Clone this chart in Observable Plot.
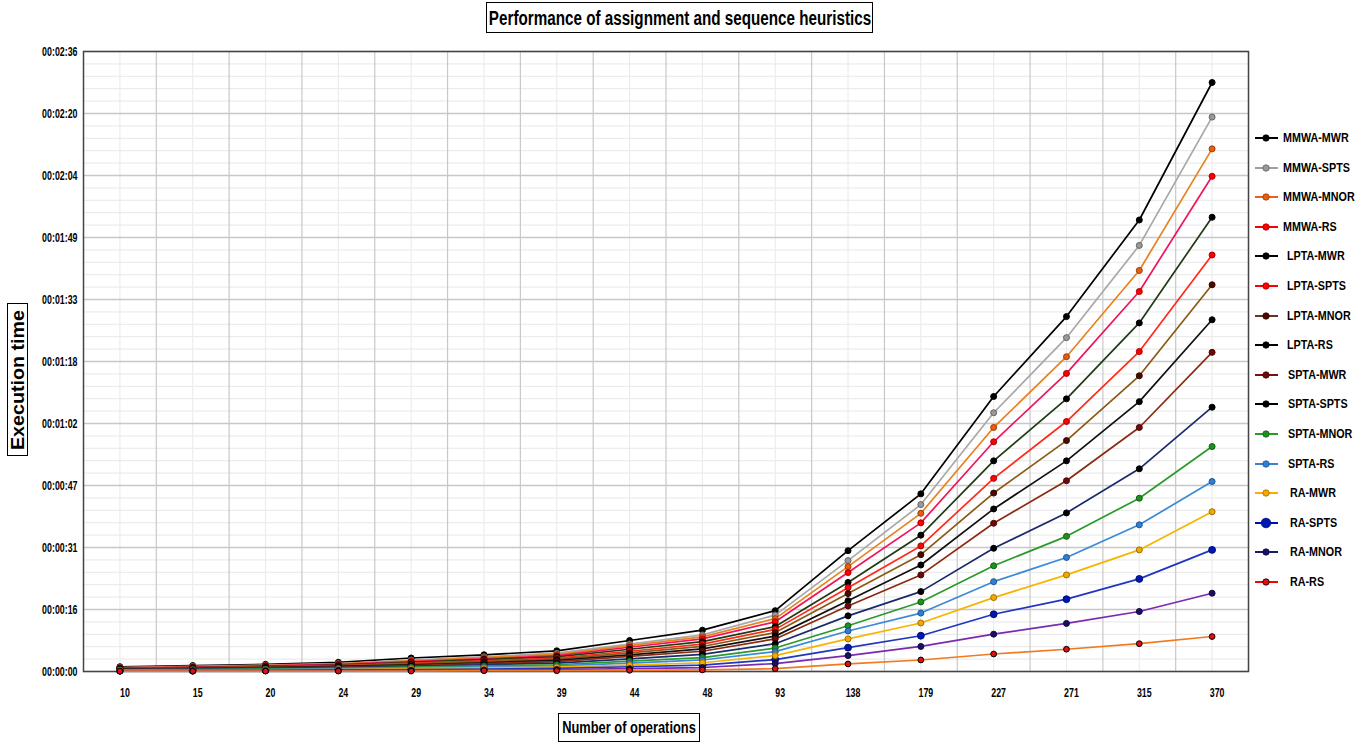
<!DOCTYPE html>
<html>
<head>
<meta charset="utf-8">
<script src="https://cdn.jsdelivr.net/npm/d3@7"></script>
<script src="https://cdn.jsdelivr.net/npm/@observablehq/plot@0.6"></script>
<style>
  html, body { margin: 0; padding: 0; background: #fff; }
  #wrap { position: relative; width: 1370px; height: 744px; overflow: hidden; font-family: "Liberation Sans", Arial, sans-serif; font-weight: bold; color: #000; }
  #wrap > svg { position: absolute; left: 0; top: 0; }
  .box { position: absolute; background: #fff; border: 1px solid #000; box-sizing: border-box; }
  .box span { position: absolute; left: 50%; top: 50%; white-space: nowrap; display: inline-block; }
  #title { left: 486px; top: 2px; width: 387px; height: 31px; }
  #title span { font-size: 20px; }
  #xlabel { left: 558px; top: 713px; width: 142px; height: 29px; }
  #xlabel span { font-size: 17px; }
  #ylabel { left: 7px; top: 303px; width: 21px; height: 153px; }
  #ylabel span { font-size: 19px; }
  #legend { position: absolute; left: 1253px; top: 0; }
  .li { position: absolute; left: 0; height: 20px; width: 117px; }
  .li svg { position: absolute; left: 0; top: 0; }
  .li .t { position: absolute; top: 2px; font-size: 13px; line-height: 16px; white-space: nowrap; transform-origin: 0 50%; display: inline-block; }
</style>
</head>
<body>
<div id="wrap">
  <div id="title" class="box"><span>Performance of assignment and sequence heuristics</span></div>
  <div id="xlabel" class="box"><span>Number of operations</span></div>
  <div id="ylabel" class="box"><span>Execution time</span></div>
  <div id="legend"></div>
</div>
<script>
// Categories (number of operations)
const operations = ["10","15","20","24","29","34","39","44","48","93","138","179","227","271","315","370"];

// Y tick labels
const yTickLabels = ["00:00:00","00:00:16","00:00:31","00:00:47","00:01:02","00:01:18","00:01:33","00:01:49","00:02:04","00:02:20","00:02:36"];
const yMax = 156;

// Series names
const seriesNames = ["MMWA-MWR","MMWA-SPTS","MMWA-MNOR","MMWA-RS","LPTA-MWR","LPTA-SPTS","LPTA-MNOR","LPTA-RS","SPTA-MWR","SPTA-SPTS","SPTA-MNOR","SPTA-RS","RA-MWR","RA-SPTS","RA-MNOR","RA-RS"];

// Execution time in seconds, one array per series (same order as operations)
const MMWA_MWR  = [1.2,1.5,1.8,2.3,3.4,4.2,5.2,7.8,10.4,15.3,30.4,44.7,69.2,89.3,113.6,148.2];
const MMWA_SPTS = [1.0,1.3,1.6,2.0,2.9,3.7,4.6,6.9,9.2,14.2,27.9,42.0,65.1,84.0,107.2,139.5];
const MMWA_MNOR = [0.9,1.2,1.5,1.9,2.7,3.5,4.3,6.5,8.7,13.3,26.4,39.8,61.4,79.2,100.9,131.5];
const MMWA_RS   = [0.9,1.1,1.4,1.8,2.5,3.2,4.0,6.1,8.2,12.5,24.9,37.4,57.8,75.0,95.6,124.6];
const LPTA_MWR  = [0.8,1.0,1.3,1.6,2.3,3.0,3.7,5.6,7.5,11.3,22.4,34.3,53.0,68.6,87.7,114.3];
const LPTA_SPTS = [0.7,0.9,1.2,1.5,2.1,2.7,3.4,5.1,6.9,10.6,21.1,31.6,48.6,62.9,80.5,104.8];
const LPTA_MNOR = [0.7,0.8,1.1,1.4,1.9,2.5,3.1,4.7,6.3,9.8,19.6,29.4,44.9,58.1,74.4,97.3];
const LPTA_RS   = [0.6,0.8,1.0,1.3,1.7,2.2,2.8,4.2,5.7,8.9,17.8,26.8,40.9,53.0,67.9,88.5];
const SPTA_MWR  = [0.5,0.7,0.9,1.1,1.5,2.0,2.5,3.8,5.1,8.2,16.5,24.3,37.3,48.0,61.4,80.3];
const SPTA_SPTS = [0.5,0.6,0.8,1.0,1.3,1.7,2.1,3.2,4.3,7.0,14.0,20.1,31.0,39.9,51.0,66.5];
const SPTA_MNOR = [0.4,0.5,0.6,0.8,1.1,1.4,1.7,2.6,3.5,5.9,11.5,17.5,26.6,34.0,43.6,56.6];
const SPTA_RS   = [0.3,0.4,0.5,0.7,0.9,1.1,1.4,2.1,2.9,5.0,10.2,14.7,22.6,28.7,36.9,47.8];
const RA_MWR    = [0.3,0.3,0.4,0.5,0.7,0.9,1.1,1.6,2.2,4.0,8.2,12.2,18.6,24.3,30.6,40.2];
const RA_SPTS   = [0.2,0.2,0.3,0.4,0.5,0.6,0.8,1.2,1.6,3.0,6.0,9.0,14.4,18.2,23.3,30.6];
const RA_MNOR   = [0.1,0.2,0.2,0.3,0.3,0.4,0.5,0.7,1.0,2.0,4.0,6.3,9.4,12.1,15.1,19.7];
const RA_RS     = [0.1,0.1,0.1,0.1,0.1,0.2,0.2,0.3,0.4,0.7,1.9,2.9,4.4,5.6,7.0,8.8];

const seriesValues = [MMWA_MWR,MMWA_SPTS,MMWA_MNOR,MMWA_RS,LPTA_MWR,LPTA_SPTS,LPTA_MNOR,LPTA_RS,SPTA_MWR,SPTA_SPTS,SPTA_MNOR,SPTA_RS,RA_MWR,RA_SPTS,RA_MNOR,RA_RS];

// Styles
const lineColors   = ["#000000","#a8a8a8","#e8821e","#f0145a","#1f3a14","#ff2a1a","#8a5a14","#111111","#8b2a10","#1a2a6a","#2a9a2a","#3a8ad8","#f5b400","#2035c0","#7a2ab0","#f07a20"];
const markerColors = ["#000000","#999999","#e85d10","#ff0000","#000000","#ff0000","#4a0a00","#000000","#6a0a0a","#000000","#1f8f1f","#2f7fd8","#f5a800","#0018b0","#1a1060","#e01010"];
const legendLines  = ["#000000","#a0a0a0","#e8601c","#ff0000","#000000","#ff0000","#6a3030","#000000","#7a1010","#000000","#22a022","#3a7fd8","#ffaa00","#0010aa","#1a1a6a","#ff0000"];
const markerSizes  = [5,5,5,5,5,5,5,5,5,5,5,5,5,6.5,5,4.6];
const legendTextLeft = [30,30,30,30,34,34,34,34,35,35,35,35,37,37,37,37];

// Build long table
const rows = [];
seriesNames.forEach((s, si) => {
  operations.forEach((op, oi) => {
    rows.push({series: s, si, op, v: seriesValues[si][oi]});
  });
});

const yTicks = yTickLabels.map((d, i) => i * yMax / (yTickLabels.length - 1));
const yMinor = d3.range(0, yMax + 0.001, yMax / 50);
const W = 1370, ML = 83, MR = 122;
const halfStep = (W - ML - MR) / operations.length / 2;
const markerStroke = i => i === 15 ? "#000" : d3.color(markerColors[i]).darker(1.2).formatHex();

const chart = Plot.plot({
  width: W,
  height: 744,
  marginLeft: ML,
  marginRight: MR,
  marginTop: 51,
  marginBottom: 73,
  style: {fontFamily: '"Liberation Sans", Arial, sans-serif', fontWeight: "bold", color: "#000", background: "transparent"},
  x: {type: "point", domain: operations, padding: 0.5, round: false, label: null},
  y: {domain: [0, yMax], label: null},
  marks: [
    Plot.ruleY(yMinor, {stroke: "#ececec", strokeWidth: 1.2}),
    Plot.ruleX(operations, {stroke: "#ececec", strokeWidth: 1.2}),
    Plot.ruleX(operations, {dx: halfStep, stroke: "#c8c8c8", strokeWidth: 1.2}),
    Plot.ruleY(yTicks, {stroke: "#c8c8c8", strokeWidth: 1.5}),
    Plot.frame({stroke: "#444", strokeWidth: 1.5}),
    Plot.axisY({ticks: yTicks, tickFormat: (d, i) => yTickLabels[i], tickSize: 0, tickPadding: 6, fontSize: 13, label: null}),
    Plot.axisX({tickSize: 0, tickPadding: 16, dx: 5, fontSize: 13, label: null}),
    Plot.line(rows, {x: "op", y: "v", z: "series", stroke: d => lineColors[d.si], strokeWidth: 1.7}),
    Plot.dot(rows, {x: "op", y: "v", r: d => markerSizes[d.si], fill: d => markerColors[d.si],
      stroke: d => markerStroke(d.si), strokeWidth: 1})
  ]
});
chart.style.position = "absolute";
document.getElementById("wrap").prepend(chart);

// Condense tick labels horizontally (narrow bold look)
chart.querySelectorAll('g[aria-label="y-axis tick label"] text, g[aria-label="x-axis tick label"] text').forEach(t => {
  let tr = t.getAttribute("transform");
  if (!tr) {
    const x = t.getAttribute("x") || 0, y = t.getAttribute("y") || 0;
    t.removeAttribute("x"); t.removeAttribute("y");
    tr = `translate(${x},${y})`;
  }
  t.setAttribute("transform", tr + " scale(0.68,1)");
});

// Fit HTML text boxes to the reference widths
function fitCenter(span, targetW, rotate) {
  const w = span.offsetWidth;
  const s = targetW / w;
  span.style.transform = `translate(-50%,-50%)${rotate ? " rotate(-90deg)" : ""} scaleX(${s})`;
}
fitCenter(document.querySelector("#title span"), 382, false);
fitCenter(document.querySelector("#xlabel span"), 134, false);
fitCenter(document.querySelector("#ylabel span"), 140, true);

// Legend
const legend = document.getElementById("legend");
const spans = [];
seriesNames.forEach((s, i) => {
  const item = document.createElement("div");
  item.className = "li";
  item.style.top = (128 + i * 29.6) + "px";
  const r = i === 13 ? 4.8 : 3.2;
  item.innerHTML = `<svg width="30" height="20"><line x1="2" x2="25" y1="10" y2="10" stroke="${legendLines[i]}" stroke-width="2"/><circle cx="13" cy="10" r="${r}" fill="${markerColors[i]}" stroke="${markerStroke(i)}" stroke-width="0.8"/></svg><span class="t" style="left:${legendTextLeft[i]}px">${s}</span>`;
  legend.appendChild(item);
  spans.push(item.querySelector(".t"));
});
const legendScale = 72 / spans[2].offsetWidth;
spans.forEach(sp => { sp.style.transform = `scaleX(${legendScale})`; });
</script>
</body>
</html>
